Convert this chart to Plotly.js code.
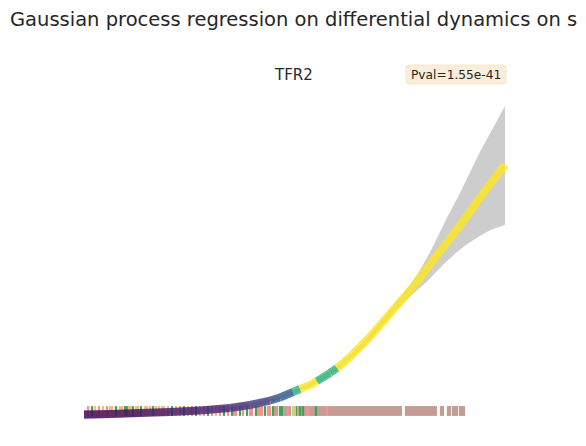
<!DOCTYPE html>
<html>
<head>
<meta charset="utf-8">
<script src="https://cdn.plot.ly/plotly-3.0.1.min.js"></script>
<style>
  html, body { margin: 0; padding: 0; background: #ffffff; }
  #chart { width: 586px; height: 446px; }
</style>
</head>
<body>
<div id="chart"></div>
<script>
// ---- GP fit of TFR2 along pseudotime (0-100) ----
const pseudotime = [0, 6.18, 13.30, 20.43, 27.55, 34.68, 39.43, 44.18, 46.55, 49.64, 51.30, 53.68,
                    55.34, 58.43, 60.09, 63.18, 67.93, 73.86, 78.14, 81.70, 85.74, 89.78, 94.05, 96.90, 100];
const gpMean  = [0.000, 0.002, 0.006, 0.010, 0.016, 0.026, 0.038, 0.056, 0.068, 0.090, 0.102, 0.118,
                 0.134, 0.166, 0.186, 0.230, 0.311, 0.427, 0.511, 0.591, 0.679, 0.768, 0.868, 0.934, 1.000];
const gpLower = [-0.020, -0.014, -0.008, 0.002, 0.008, 0.018, 0.030, 0.048, 0.060, 0.082, 0.094, 0.110,
                 0.126, 0.157, 0.177, 0.220, 0.299, 0.415, 0.483, 0.537, 0.607, 0.667, 0.715, 0.741, 0.759];
const gpUpper = [0.018, 0.016, 0.016, 0.018, 0.024, 0.034, 0.046, 0.064, 0.076, 0.098, 0.110, 0.126,
                 0.142, 0.175, 0.195, 0.240, 0.323, 0.443, 0.535, 0.635, 0.772, 0.904, 1.052, 1.140, 1.236];
// differential-dynamics state along the fit (coloured with viridis)
const curveState = [0.02, 0.03, 0.05, 0.07, 0.10, 0.14, 0.18, 0.24, 0.30, 0.65, 1.0, 1.0,
                    0.65, 0.65, 1.0, 1.0, 1.0, 1.0, 1.0, 1.0, 1.0, 1.0, 1.0, 1.0, 1.0];

// ---- cell pseudotimes per cluster (rug) ----
const cellsOrange = [2.61, 4.51, 6.18, 6.65, 8.55, 9.03, 10.69, 11.16, 12.35, 12.83, 14.49, 14.96,
                     15.68, 17.10, 17.81, 18.53, 19.95, 21.85, 24.70, 27.55, 31.35];
const cellsGreen  = [1.90, 7.60, 9.74, 10.21, 11.64, 13.54, 16.39, 20.90, 23.75, 26.60, 29.45, 33.25,
                     35.15, 37.05, 38.71, 40.85, 42.99, 44.89, 46.55, 47.03, 50.35, 51.30, 52.01, 55.10];
const cellsOlive  = [19.00, 49.64, 50.11];
const cellsSalmon = [0.95, 3.56, 5.46, 22.80, 25.65, 28.50, 30.40, 32.30, 34.20, 35.63, 36.10, 37.76,
                     39.43, 39.90, 41.33, 41.80, 42.28, 43.70, 44.18, 47.26, 48.45, 50.83, 52.96, 53.20, 57.71];
const cellsRosy   = [45.36, 45.84, 47.74, 48.21, 48.93, 51.78, 52.49, 53.68, 54.15, 54.63, 55.34, 55.81,
                     56.29, 56.76, 57.24, 58.19, 58.66, 59.14, 59.61, 60.09, 60.56, 61.04, 61.51, 61.99,
                     62.46, 62.94, 63.41, 63.89, 64.36, 64.84, 65.31, 65.79, 66.26, 66.74, 67.21, 67.69,
                     68.16, 68.64, 69.11, 69.59, 70.06, 70.54, 71.01, 71.49, 71.96, 72.44, 72.91, 73.39,
                     73.86, 74.34, 74.81, 75.29, 76.48, 76.95, 77.43, 77.90, 78.38, 78.85, 79.33, 79.80,
                     80.28, 80.75, 81.23, 81.70, 82.18, 82.65, 83.13, 83.60, 84.79, 85.26, 86.45, 86.93,
                     87.64, 88.11, 88.59, 89.30, 89.78, 90.25];
const rugLevel = 0.014;

const geneName = 'TFR2';
const pvalText = 'Pval=1.55e-41';
const titleText = 'Gaussian process regression on differential dynamics on s';

// viridis colormap
const VIRIDIS = ['#440154', '#482475', '#414487', '#355f8d', '#2a788e', '#21918c',
                 '#22a884', '#44bf70', '#7ad151', '#bddf26', '#fde725'];
function hexRgb(h) { return [1, 3, 5].map(i => parseInt(h.slice(i, i + 2), 16)); }
function viridis(v, alpha) {
  const p = Math.max(0, Math.min(1, v)) * (VIRIDIS.length - 1);
  const i = Math.min(Math.floor(p), VIRIDIS.length - 2);
  const f = p - i;
  const a = hexRgb(VIRIDIS[i]), b = hexRgb(VIRIDIS[i + 1]);
  const c = a.map((x, k) => Math.round(x + (b[k] - x) * f));
  return `rgba(${c[0]},${c[1]},${c[2]},${alpha})`;
}

const traces = [];

// confidence band
traces.push({
  x: pseudotime, y: gpLower, mode: 'lines', line: { width: 0, shape: 'spline', smoothing: 0.8 },
  hoverinfo: 'skip', showlegend: false
});
traces.push({
  x: pseudotime, y: gpUpper, mode: 'lines', line: { width: 0, shape: 'spline', smoothing: 0.8 },
  fill: 'tonexty', fillcolor: 'rgb(205,205,205)', hoverinfo: 'skip', showlegend: false
});

// rug of cells, one trace per cluster
function rug(times, color) {
  traces.push({
    x: times, y: times.map(() => rugLevel), mode: 'markers', showlegend: false,
    marker: { symbol: 'line-ns', size: 7, color: color, line: { color: color, width: 2.2 } },
    cliponaxis: false, hoverinfo: 'skip'
  });
}
rug(cellsRosy, '#c49c94');
rug(cellsSalmon, '#f4938e');
rug(cellsGreen, '#3aa55a');
rug(cellsOrange, '#f6b878');
rug(cellsOlive, '#cdd17e');

// GP mean, coloured piecewise by state
for (let i = 0; i < pseudotime.length - 1; i++) {
  traces.push({
    x: [pseudotime[i], pseudotime[i + 1]], y: [gpMean[i], gpMean[i + 1]],
    mode: 'lines', line: { width: 8, color: viridis(curveState[i], 0.82) },
    hoverinfo: 'skip', showlegend: false
  });
}

// rounded label box behind the p-value (paper coordinates of the plot area)
const bx0 = 0.7425, bx1 = 0.957, by0 = 0.9344, by1 = 0.9863, rx = 0.0064, ry = 0.0082;
const boxPath = `M ${bx0 + rx},${by1} L ${bx1 - rx},${by1} Q ${bx1},${by1} ${bx1},${by1 - ry} ` +
  `L ${bx1},${by0 + ry} Q ${bx1},${by0} ${bx1 - rx},${by0} L ${bx0 + rx},${by0} ` +
  `Q ${bx0},${by0} ${bx0},${by0 + ry} L ${bx0},${by1 - ry} Q ${bx0},${by1} ${bx0 + rx},${by1} Z`;

const layout = {
  width: 586, height: 446,
  margin: { l: 60, r: 60, t: 60, b: 20 },
  paper_bgcolor: '#ffffff', plot_bgcolor: '#ffffff',
  font: { family: 'DejaVu Sans', color: '#262626' },
  title: {
    text: titleText, font: { family: 'DejaVu Sans', size: 19.5, color: '#262626' },
    xref: 'container', yref: 'container', x: 10 / 586, xanchor: 'left',
    y: 1 - 19 / 446, yanchor: 'middle'
  },
  xaxis: { visible: false, range: [-5.70, 104.99], fixedrange: true },
  yaxis: { visible: false, range: [-0.0461, 1.4208], fixedrange: true },
  showlegend: false,
  shapes: [
    { type: 'path', xref: 'paper', yref: 'paper', path: boxPath,
      fillcolor: '#faeeda', line: { width: 0.8, color: '#f3e4c8' }, layer: 'above' }
  ],
  annotations: [
    { text: geneName, xref: 'paper', yref: 'paper', x: 0.5, y: 0.959,
      xanchor: 'center', yanchor: 'middle', showarrow: false,
      font: { family: 'DejaVu Sans', size: 15, color: '#262626' } },
    { text: pvalText, xref: 'paper', yref: 'paper', x: 0.850, y: 0.960,
      xanchor: 'center', yanchor: 'middle', showarrow: false,
      font: { family: 'DejaVu Sans', size: 12.2, color: '#262626' } }
  ]
};

Plotly.newPlot('chart', traces, layout, { staticPlot: true, displayModeBar: false });
</script>
</body>
</html>
